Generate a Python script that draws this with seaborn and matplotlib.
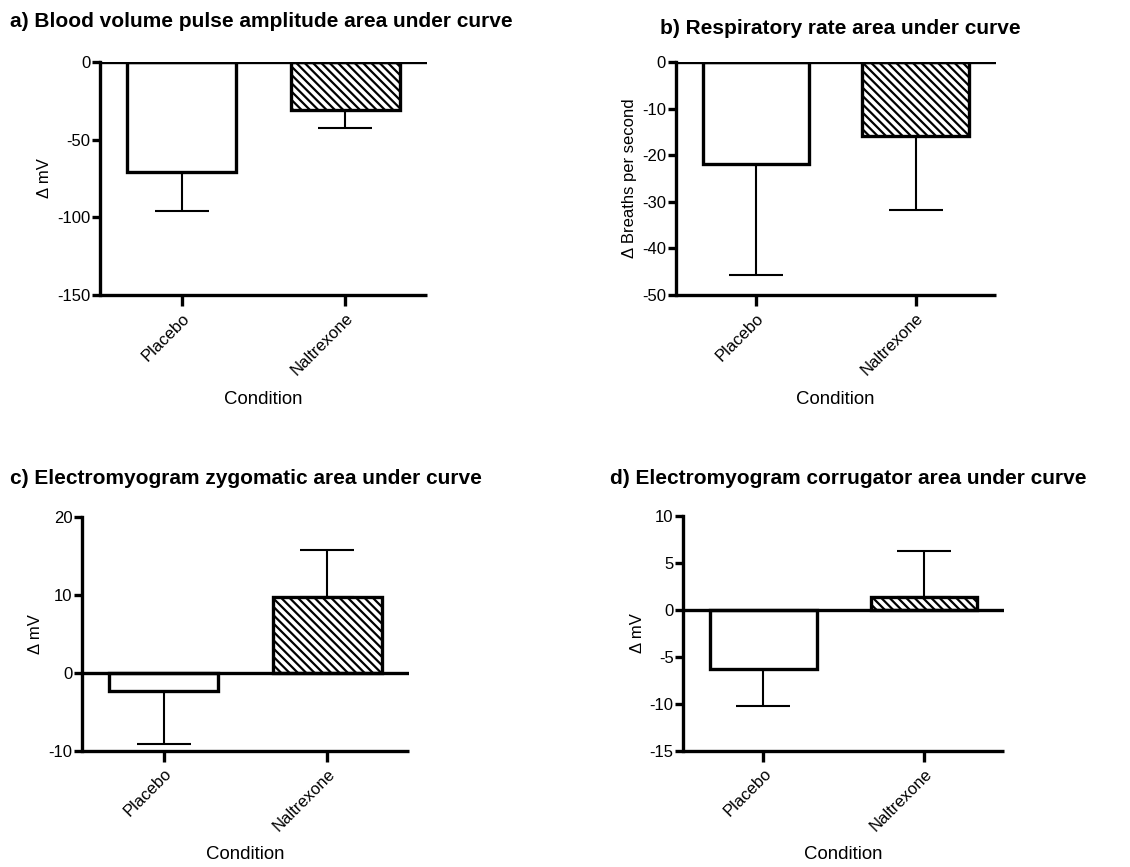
import numpy as np
import matplotlib
matplotlib.use("Agg")
import matplotlib.pyplot as plt
import seaborn as sns

# Data (mean and one-sided SEM)
conditions = ["Placebo", "Naltrexone"]

bvp_mean = [-70.8, -30.9]
bvp_sem = [24.9, 11.4]

resp_mean = [-21.9, -15.8]
resp_sem = [23.9, 15.9]

zyg_mean = [-2.4, 9.7]
zyg_sem = [6.7, 6.0]

corr_mean = [-6.25, 1.42]
corr_sem = [3.95, 4.9]

titles = ["a) Blood volume pulse amplitude area under curve",
          "b) Respiratory rate area under curve",
          "c) Electromyogram zygomatic area under curve",
          "d) Electromyogram corrugator area under curve"]
ylabels = ["\u0394 mV", "\u0394 Breaths per second", "\u0394 mV", "\u0394 mV"]
yticks = [[-150, -100, -50, 0],
          [-50, -40, -30, -20, -10, 0],
          [-10, 0, 10, 20],
          [-15, -10, -5, 0, 5, 10]]

sns.set_style("ticks", {"axes.edgecolor": "black", "text.color": "black",
                        "xtick.color": "black", "ytick.color": "black",
                        "axes.labelcolor": "black"})
plt.rcParams['font.family'] = ['Liberation Sans', 'DejaVu Sans']
plt.rcParams['axes.unicode_minus'] = False
plt.rcParams['hatch.linewidth'] = 1.6

fig = plt.figure(figsize=(11.3, 8.67), dpi=100)

# axes boxes in figure fractions [left, bottom, width, height]
boxes = [[0.0885, 0.6597, 0.2895, 0.2688],
         [0.598, 0.6597, 0.283, 0.2688],
         [0.0726, 0.1342, 0.2894, 0.2698],
         [0.6047, 0.1342, 0.2838, 0.2706]]
title_pos = [(0.009, 0.975), (0.584, 0.967), (0.009, 0.448), (0.540, 0.448)]

means = [bvp_mean, resp_mean, zyg_mean, corr_mean]
sems = [bvp_sem, resp_sem, zyg_sem, corr_sem]

lw = 2.4
for i in range(4):
    ax = fig.add_axes(boxes[i])
    sns.barplot(x=conditions, y=means[i], ax=ax, width=0.665, color="white",
                edgecolor="black", linewidth=lw, saturation=1, zorder=3)
    ax.patches[1].set_hatch("\\\\\\\\")
    ax.patches[1].set_facecolor("white")

    # one-sided error bars, pointing away from zero
    m = np.array(means[i])
    s = np.array(sems[i])
    lower = np.where(m < 0, s, 0)
    upper = np.where(m >= 0, s, 0)
    ax.errorbar([0, 1], m, yerr=[lower, upper], fmt="none", ecolor="black",
                elinewidth=1.5, capsize=19.4, capthick=1.5, zorder=2)

    ax.axhline(0, color="black", lw=lw, zorder=4)
    ax.set_xlim(-0.5, 1.5)
    ax.set_ylim(yticks[i][0], yticks[i][-1])
    ax.set_yticks(yticks[i])
    ax.set_yticklabels([str(t) for t in yticks[i]])
    sns.despine(ax=ax)
    ax.spines['left'].set_linewidth(lw)
    ax.spines['bottom'].set_linewidth(lw)
    ax.spines['bottom'].set_capstyle('butt')
    ax.tick_params(axis='y', length=6, width=lw, labelsize=12, pad=1)
    ax.tick_params(axis='x', length=8, width=lw, labelsize=12, pad=3)
    ax.set_xticks([0, 1])
    ax.set_xticklabels(conditions, rotation=45, ha="right", rotation_mode="anchor")
    ax.set_xlabel("Condition", fontsize=13.4, labelpad=9)
    ax.set_ylabel(ylabels[i], fontsize=12, labelpad=3.5)
    fig.text(title_pos[i][0], title_pos[i][1], titles[i], fontsize=15,
             fontweight="bold", ha="left", va="center")

plt.savefig("out.png", dpi=100)
